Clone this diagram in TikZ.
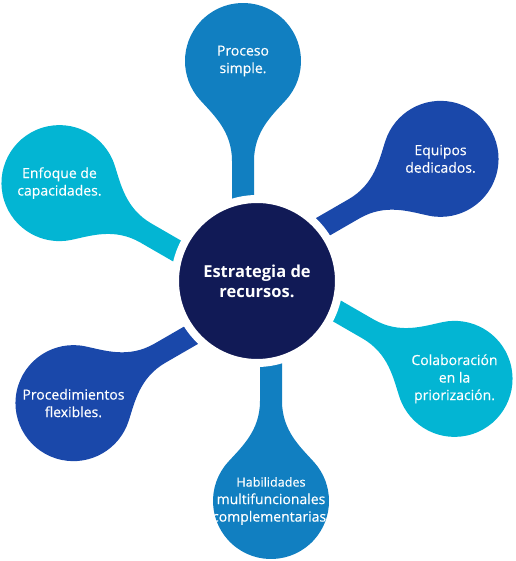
\documentclass[tikz,border=0pt]{standalone}
\usepackage{fontspec}
\setmainfont{Open Sans}
\newfontfamily\petalfont{Open Sans}[FakeBold=0.3]
\definecolor{navy}{HTML}{111A56}
\definecolor{midblue}{HTML}{117FC1}
\definecolor{royal}{HTML}{1A48AA}
\definecolor{cyanblue}{HTML}{03B5D3}
\begin{document}
\begin{tikzpicture}[x=1pt,y=1pt,
	petaltext/.style={text=white,align=center,font=\petalfont\fontsize{14}{17.5}\selectfont}]
	\useasboundingbox (-257,-280) rectangle (258,281);
	\foreach \ang/\col/\nm/\txt in {90/midblue/proceso/{Proceso\\simple.},
		30/royal/equipos/{Equipos\\dedicados.},
		-30/cyanblue/colaboracion/{Colaboración\\en la\\priorización.},
		-90/midblue/habilidades/{\fontsize{12.6}{17}\selectfont Habilidades\\multifuncionales\\complementarias.},
		-150/royal/procedimientos/{Procedimientos\\flexibles.},
		150/cyanblue/enfoque/{Enfoque de\\capacidades.}}{
		\begin{scope}[rotate=\ang]
			\fill[\col] (60,3) -- (120,3) .. controls (150,3) and (166.3,-15.7) .. (181.2,-29.1)
				arc[start angle=-132,end angle=132,radius=58]
				.. controls (166.3,43.7) and (150,25) .. (120,25) -- (60,25) -- cycle;
			\node[petaltext] (\nm) at (220,14) {\txt};
		\end{scope}
	}
	\node[circle,fill=navy,draw=white,line width=8,minimum size=164,text=white,align=center,
		font=\bfseries\fontsize{16.5}{20}\selectfont] (estrategia) at (0,0) {Estrategia de\\recursos.};
\end{tikzpicture}
\end{document}
